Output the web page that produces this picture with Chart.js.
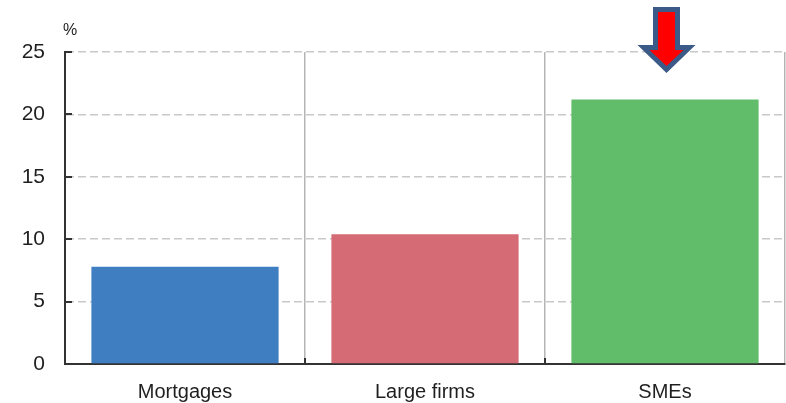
<!DOCTYPE html>
<html>
<head>
<meta charset="utf-8">
<script src="https://cdn.jsdelivr.net/npm/chart.js@4/dist/chart.umd.min.js"></script>
<style>
html,body{margin:0;padding:0;background:#fff;}
#wrap{width:786px;height:403px;position:relative;}
</style>
</head>
<body>
<div id="wrap"><canvas id="c" width="786" height="403"></canvas></div>
<script>
const categories = ["Mortgages", "Large firms", "SMEs"];
const values = [7.8, 10.4, 21.2];
const barColors = ["#3f7fc1", "#d46b75", "#62bd6a"];
const yTicks = [0, 5, 10, 15, 20, 25];
const unitLabel = "%";
const highlightIndex = 2;

const FONT = "'Liberation Sans', Arial, sans-serif";
const TEXT = "#1f1f1f";

const extras = {
  id: "extras",
  afterDraw(chart) {
    const ctx = chart.ctx;
    const x = chart.scales.x, y = chart.scales.y;
    const a = chart.chartArea;
    ctx.save();
    ctx.strokeStyle = "#333";
    ctx.lineWidth = 2;
    yTicks.forEach(v => {
      const py = Math.round(y.getPixelForValue(v));
      ctx.beginPath(); ctx.moveTo(a.left, py); ctx.lineTo(a.left + 7, py); ctx.stroke();
    });
    for (let i = 1; i < categories.length; i++) {
      const px = (x.getPixelForValue(i - 1) + x.getPixelForValue(i)) / 2;
      ctx.beginPath(); ctx.moveTo(px, a.bottom); ctx.lineTo(px, a.bottom - 6); ctx.stroke();
    }
    ctx.fillStyle = TEXT;
    ctx.font = "16px " + FONT;
    ctx.textAlign = "left";
    ctx.textBaseline = "middle";
    ctx.fillText(unitLabel, a.left - 2, 31);
    const cx = x.getPixelForValue(highlightIndex) + 1.5;
    const arrow = (sw, top, headY, hw, tip) => {
      ctx.beginPath();
      ctx.moveTo(cx - sw, top);
      ctx.lineTo(cx + sw, top);
      ctx.lineTo(cx + sw, headY);
      ctx.lineTo(cx + hw, headY);
      ctx.lineTo(cx, tip);
      ctx.lineTo(cx - hw, headY);
      ctx.lineTo(cx - sw, headY);
      ctx.closePath();
      ctx.fill();
    };
    ctx.fillStyle = "#3b5a87";
    arrow(13.5, 7, 45, 29, 73);
    ctx.fillStyle = "#ff0000";
    arrow(8.5, 12, 50, 17, 66);
    ctx.restore();
  }
};

new Chart(document.getElementById("c"), {
  type: "bar",
  data: {
    labels: categories,
    datasets: [{
      data: values,
      backgroundColor: barColors,
      borderWidth: 0,
      categoryPercentage: 1.0,
      barPercentage: 0.78
    }]
  },
  options: {
    responsive: false,
    animation: false,
    devicePixelRatio: 1,
    layout: { padding: { top: 52, right: 1, left: 0, bottom: 0 } },
    plugins: { legend: { display: false }, tooltip: { enabled: false } },
    scales: {
      x: {
        grid: { display: true, offset: true, color: "#b5b5b5", lineWidth: 1.5, drawTicks: false },
        border: { display: true, color: "#333", width: 2 },
        ticks: { color: TEXT, font: { family: FONT, size: 20 }, padding: 16 },
        afterFit(s) { s.height = 39; }
      },
      y: {
        min: 0, max: 25,
        afterBuildTicks(s) { s.ticks = yTicks.map(v => ({ value: v })); },
        grid: { color: "#c8c8c8", lineWidth: 1.5, drawTicks: false },
        border: { display: true, color: "#333", width: 2, dash: [8, 4] },
        ticks: { color: TEXT, font: { family: FONT, size: 21 }, padding: 20 },
        afterFit(s) { s.width = 65; }
      }
    }
  },
  plugins: [extras]
});
</script>
</body>
</html>
